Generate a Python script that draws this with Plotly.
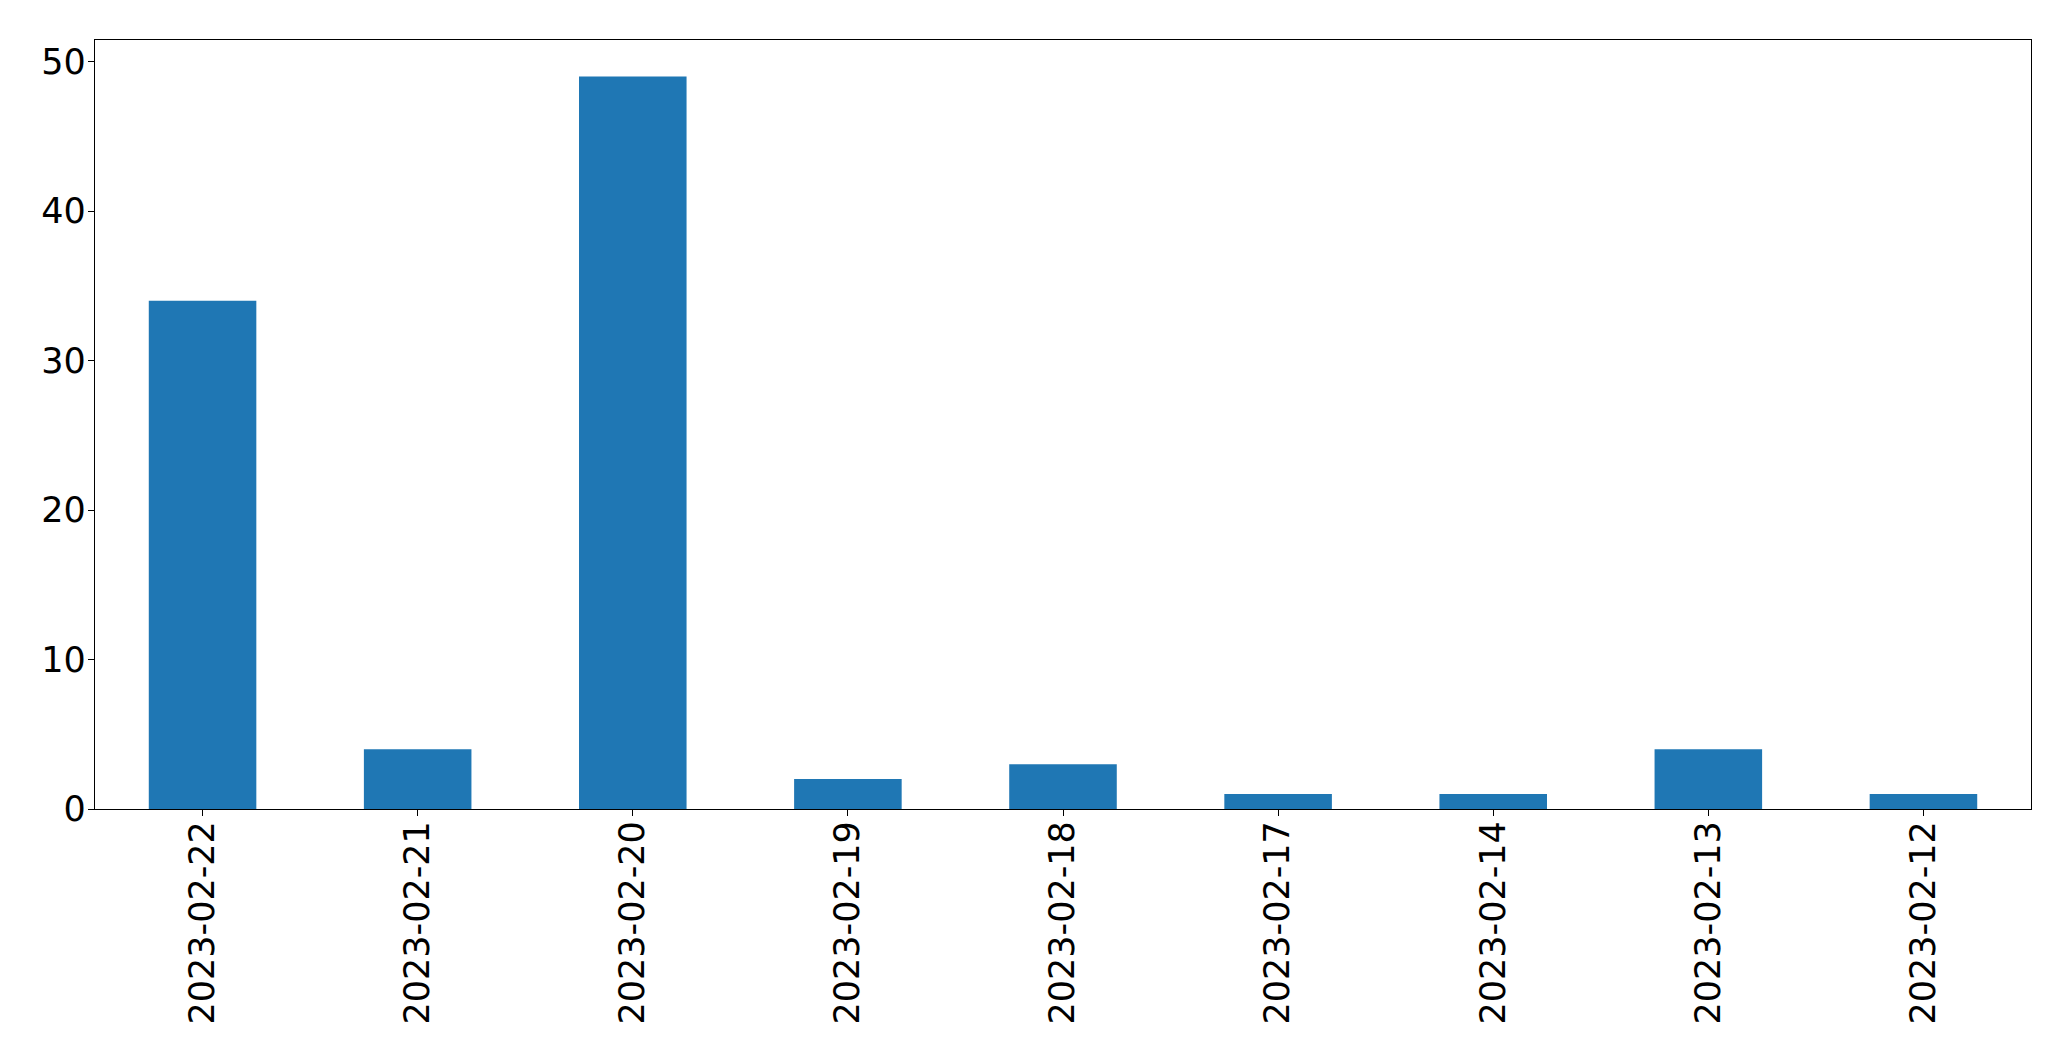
import plotly.graph_objects as go

dates = ["2023-02-22", "2023-02-21", "2023-02-20", "2023-02-19", "2023-02-18",
         "2023-02-17", "2023-02-14", "2023-02-13", "2023-02-12"]
counts = [34, 4, 49, 2, 3, 1, 1, 4, 1]
y_ticks = [0, 10, 20, 30, 40, 50]

fig = go.Figure()
fig.add_trace(go.Bar(x=dates, y=counts, marker=dict(color="#1f77b4", line=dict(width=0)),
                     width=0.5))

# page body has an 8px margin; compensate so the plot area lands where the reference has it
font = dict(family="DejaVu Sans", size=35, color="black")
fig.update_layout(
    width=2055, height=1045,
    margin=dict(l=86.5, r=31.5, t=31.5, b=244),
    paper_bgcolor="white", plot_bgcolor="white",
    showlegend=False,
    font=font,
    bargap=0.5,
)
fig.update_xaxes(type="category", range=[-0.5, len(dates) - 0.5], automargin=False,
                 tickangle=-90, ticks="outside", ticklen=6, tickwidth=1.3, tickcolor="black",
                 showline=True, linecolor="black", linewidth=1.3, mirror=True,
                 showgrid=False, zeroline=False, tickfont=font, ticklabelstandoff=-9)
fig.update_yaxes(range=[0, 51.45], tickvals=y_ticks, automargin=False,
                 ticks="outside", ticklen=6, tickwidth=1.3, tickcolor="black",
                 showline=True, linecolor="black", linewidth=1.3, mirror=True,
                 showgrid=False, zeroline=False, tickfont=font, ticklabelstandoff=-5)

fig.write_html("out.html")
